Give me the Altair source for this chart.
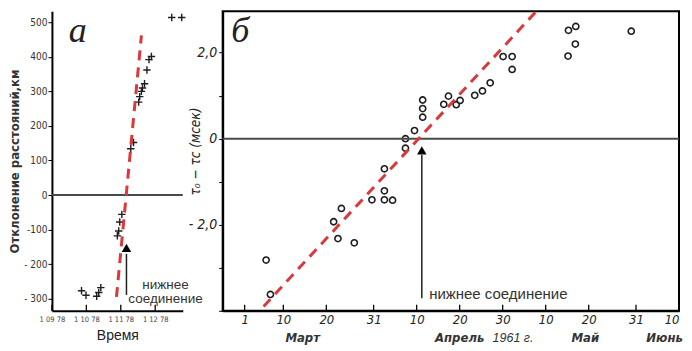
import altair as alt
import pandas as pd

# ---------------- Panel "а" data ----------------
a_time = [9.86, 9.99, 10.30, 10.36, 10.42, 10.90, 10.94, 10.97, 11.03, 11.29, 11.37,
          11.52, 11.55, 11.60, 11.63, 11.69, 11.76, 11.82, 11.89, 12.48, 12.77]
a_dev = [-277, -290, -293, -282, -268, -118, -104, -78, -56, 134, 152,
         269, 285, 300, 310, 322, 362, 392, 401, 514, 514]
a_fit_time = [10.875, 11.60]
a_fit_dev = [-295, 462]
a_tick_values = [9, 10, 11, 12]
a_tick_labels = ["1 09 78", "1 10 78", "1 11 78", "1 12 78"]
a_y_ticks = [-300, -200, -100, 0, 100, 200, 300, 400, 500]
a_arrow_time = [11.165]
a_arrow_from = [-289]
a_arrow_to = [-170]
a_arrow_tip = [-153]
a_note_lines = ["нижнее", "соединение"]
a_note_time = [12.30, 12.30]
a_note_dev = [-259, -300]
a_letter = ["a"]
a_letter_pos = [9.75, 474]

# ---------------- Panel "б" data ----------------
b_day = [6.0, 7.0, 21.7, 23.5, 22.7, 26.5, 30.6, 33.5, 35.4, 33.5, 33.5,
         38.4, 38.4, 40.5, 42.4, 42.4, 42.4, 47.3, 48.4, 50.2, 51.1,
         54.5, 56.3, 58.1, 61.1, 63.2, 63.2, 76.2, 76.3, 78.0, 77.9, 90.9]
b_val = [-2.82, -3.62, -1.93, -1.62, -2.32, -2.42, -1.42, -1.42, -1.43, -1.21, -0.70,
         -0.22, 0.0, 0.19, 0.50, 0.70, 0.90, 0.80, 0.99, 0.79, 0.89,
         1.01, 1.11, 1.30, 1.91, 1.91, 1.61, 1.92, 2.52, 2.61, 2.20, 2.50]
b_fit_day = [5.41, 68.8]
b_fit_val = [-3.90, 2.96]
b_tick_days = [1, 10, 20, 31, 41, 51, 61, 71, 81, 92, 102]
b_tick_labels = ["1", "10", "20", "31", "10", "20", "30", "10", "20", "31", "10"]
b_y_ticks = [-4, -3, -2, -1, 0, 1, 2]
b_y_label_values = [-2, 0, 2]
b_y_label_texts = ["- 2,0", "0", "2,0"]
b_months = ["Март", "Апрель", "Май"]
b_months_day = [14.5, 51.0, 80.2]
b_last_month = ["Июнь"]
b_last_month_day = [102.9]
b_year = ["1961 г."]
b_year_day = [63.4]
b_arrow_day = [42.2]
b_arrow_from = [-3.71]
b_arrow_to = [-0.38]
b_arrow_tip = [-0.27]
b_note = ["нижнее соединение"]
b_note_pos = [43.9, -3.61]
b_letter = ["б"]
b_letter_pos = [0.0, 2.243]

RED = "#d8393b"
INK = "#1e1e1e"
NARROW = "Liberation Sans Narrow, DejaVu Sans Condensed, sans-serif"
SANS = "Liberation Sans, Arial, sans-serif"
SERIF = "Liberation Serif, DejaVu Serif, serif"


def chain_expr(values, labels):
    expr = "''"
    for v, l in reversed(list(zip(values, labels))):
        expr = f"datum.value == {v} ? '{l}' : {expr}"
    return expr


# ================= Panel а =================
AW, AH = 131, 300
ax_scale = alt.Scale(domain=[9.0, 12.8], nice=False, zero=False)
ay_scale = alt.Scale(domain=[-335, 532], nice=False, zero=False)

ax_axis = alt.Axis(
    values=a_tick_values, labelExpr=chain_expr(a_tick_values, a_tick_labels),
    ticks=False, grid=False, domainColor="black", domainWidth=2,
    labelFont=NARROW, labelFontSize=7.5, labelColor="#444", labelPadding=5,
    labelOverlap=False, labelBound=False, labelAlign="center",
    title="Время", titleFont=SANS, titleFontSize=14, titleFontWeight="normal",
    titleColor="#222", titlePadding=5)
ay_axis = alt.Axis(
    values=a_y_ticks, labelExpr="datum.value < -150 ? '- ' + abs(datum.value) : '' + datum.value",
    grid=False, domainColor="black", domainWidth=2,
    tickColor="black", tickSize=4, labelPadding=1,
    labelFont=NARROW, labelFontSize=10, labelColor="#333",
    title="Отклонение расстояний,км", titleFont=NARROW, titleFontSize=13,
    titleFontWeight="bold", titleColor="#333", titlePadding=2)


def AX(f):
    return alt.X(f, scale=ax_scale, axis=ax_axis)


def AY(f):
    return alt.Y(f, scale=ay_scale, axis=ay_axis)


a_pts = pd.DataFrame({"t": a_time, "d": a_dev})
a_fit = pd.DataFrame({"t": a_fit_time, "d": a_fit_dev})

a_points = alt.Chart(a_pts).mark_point(
    shape="M-1,0L1,0M0,-1L0,1", filled=False, size=55, strokeWidth=1.4, color=INK, opacity=1
).encode(x=AX("t:Q"), y=AY("d:Q"))

a_zero = alt.Chart(pd.DataFrame({"d": [0]})).mark_rule(color="#4a4a4a", strokeWidth=2).encode(
    y=AY("d:Q"))

a_line = alt.Chart(a_fit).mark_line(color=RED, strokeWidth=3, strokeDash=[10, 7]).encode(
    x=AX("t:Q"), y=AY("d:Q"))

a_ticks = alt.Chart(pd.DataFrame({"t": a_tick_values})).mark_rule(color="black", strokeWidth=1.3).encode(
    x=AX("t:Q"), y=alt.value(AH), y2=alt.value(AH - 6))

a_arrow_df = pd.DataFrame({"t": a_arrow_time, "d": a_arrow_from, "d1": a_arrow_to, "tip": a_arrow_tip})
a_shaft = alt.Chart(a_arrow_df).mark_rule(color="#222", strokeWidth=1.5).encode(
    x=AX("t:Q"), y=AY("d:Q"), y2="d1:Q")
a_head = alt.Chart(a_arrow_df).mark_point(shape="triangle-up", filled=True, size=90, color="black", opacity=1).encode(
    x=AX("t:Q"), y=AY("tip:Q"))

a_note = alt.Chart(pd.DataFrame({"t": a_note_time, "d": a_note_dev, "txt": a_note_lines})).mark_text(
    font=SANS, fontSize=13.5, color="#333", align="center", baseline="middle").encode(
    x=AX("t:Q"), y=AY("d:Q"), text="txt:N")

a_lab = alt.Chart(pd.DataFrame({"t": [a_letter_pos[0]], "d": [a_letter_pos[1]], "txt": a_letter})).mark_text(
    font=SERIF, fontSize=36, fontStyle="italic", color="#222", align="center", baseline="middle").encode(
    x=AX("t:Q"), y=AY("d:Q"), text="txt:N")

panel_a = alt.layer(a_points, a_zero, a_line, a_ticks, a_shaft, a_head, a_note, a_lab).properties(
    width=AW, height=AH)

# ================= Panel б =================
BW, BH = 457, 300
bx_scale = alt.Scale(domain=[-4.1, 102.0], nice=False, zero=False)
by_scale = alt.Scale(domain=[-4.0, 2.963], nice=False, zero=False)

bx_axis = alt.Axis(
    values=b_tick_days, labelExpr=chain_expr(b_tick_days, b_tick_labels),
    ticks=False, grid=False, domainColor="black", domainWidth=2,
    labelFont=NARROW, labelFontSize=13, labelFontStyle="italic", labelColor="#222",
    labelPadding=3, labelOverlap=False, labelBound=False, title=None)
by_axis = alt.Axis(
    values=b_y_ticks, labelExpr=chain_expr(b_y_label_values, b_y_label_texts), grid=False,
    domainColor="black", domainWidth=2, tickColor="black", tickSize=4,
    labelPadding=2, labelFont=NARROW, labelFontSize=14, labelFontStyle="italic",
    labelColor="#222", title="τ₀ − τc (мсек)", titleFont=NARROW, titleFontSize=13.5,
    titleFontStyle="italic", titleFontWeight="normal", titleColor="#222",
    titleX=-27, titleY=140, titleAngle=270, titleBaseline="middle", titleAlign="center")


def BX(f):
    return alt.X(f, scale=bx_scale, axis=bx_axis)


def BY(f):
    return alt.Y(f, scale=by_scale, axis=by_axis)


b_pts = pd.DataFrame({"day": b_day, "v": b_val})
b_fit = pd.DataFrame({"day": b_fit_day, "v": b_fit_val})

b_points = alt.Chart(b_pts).mark_point(
    shape="circle", filled=False, size=38, strokeWidth=1.6, color=INK, opacity=1
).encode(x=BX("day:Q"), y=BY("v:Q"))

b_zero = alt.Chart(pd.DataFrame({"v": [0]})).mark_rule(color="#4a4a4a", strokeWidth=2).encode(
    y=BY("v:Q"))

b_line = alt.Chart(b_fit).mark_line(color=RED, strokeWidth=3, strokeDash=[10, 7]).encode(
    x=BX("day:Q"), y=BY("v:Q"))

b_ticks = alt.Chart(pd.DataFrame({"day": b_tick_days})).mark_rule(color="black", strokeWidth=1.3).encode(
    x=BX("day:Q"), y=alt.value(BH), y2=alt.value(BH - 6))

b_arrow_df = pd.DataFrame({"day": b_arrow_day, "v": b_arrow_from, "v1": b_arrow_to, "tip": b_arrow_tip})
b_shaft = alt.Chart(b_arrow_df).mark_rule(color="#222", strokeWidth=1.5).encode(
    x=BX("day:Q"), y=BY("v:Q"), y2="v1:Q")
b_head = alt.Chart(b_arrow_df).mark_point(shape="triangle-up", filled=True, size=90, color="black", opacity=1).encode(
    x=BX("day:Q"), y=BY("tip:Q"))

b_note_c = alt.Chart(pd.DataFrame({"day": [b_note_pos[0]], "v": [b_note_pos[1]], "txt": b_note})).mark_text(
    font=SANS, fontSize=15, color="#333", align="left", baseline="middle").encode(
    x=BX("day:Q"), y=BY("v:Q"), text="txt:N")

b_lab = alt.Chart(pd.DataFrame({"day": [b_letter_pos[0]], "v": [b_letter_pos[1]], "txt": b_letter})).mark_text(
    font=SERIF, fontSize=36, fontStyle="italic", color="#222", align="center", baseline="alphabetic").encode(
    x=BX("day:Q"), y=BY("v:Q"), text="txt:N")

b_month_t = alt.Chart(pd.DataFrame({"day": b_months_day, "txt": b_months})).mark_text(
    font=NARROW, fontSize=13, fontStyle="italic", fontWeight="bold", color="#333",
    align="center", baseline="middle").encode(
    x=BX("day:Q"), y=alt.value(BH + 27), text="txt:N")

b_last_t = alt.Chart(pd.DataFrame({"day": b_last_month_day, "txt": b_last_month})).mark_text(
    font=NARROW, fontSize=13, fontStyle="italic", fontWeight="bold", color="#333",
    align="right", baseline="middle").encode(
    x=BX("day:Q"), y=alt.value(BH + 27), text="txt:N")

b_year_t = alt.Chart(pd.DataFrame({"day": b_year_day, "txt": b_year})).mark_text(
    font=SANS, fontSize=12.5, fontStyle="italic", color="#333",
    align="center", baseline="middle").encode(
    x=BX("day:Q"), y=alt.value(BH + 27), text="txt:N")

panel_b = alt.layer(b_points, b_zero, b_line, b_ticks, b_shaft, b_head, b_note_c, b_lab,
                    b_month_t, b_last_t, b_year_t).properties(
    width=BW, height=BH, view=alt.ViewBackground(stroke="black", strokeWidth=2))

# the big panel letters have generous estimated text bounds above the frame;
# a negative top padding trims that empty estimated space so the frame sits at the top
chart = alt.hconcat(panel_a, panel_b, spacing=40, bounds="flush").properties(
    padding={"top": -4, "left": 0, "right": 0, "bottom": 0}, background="white"
).configure_view(strokeWidth=0)

chart.save("out.html", embed_options={"renderer": "svg", "actions": False})
